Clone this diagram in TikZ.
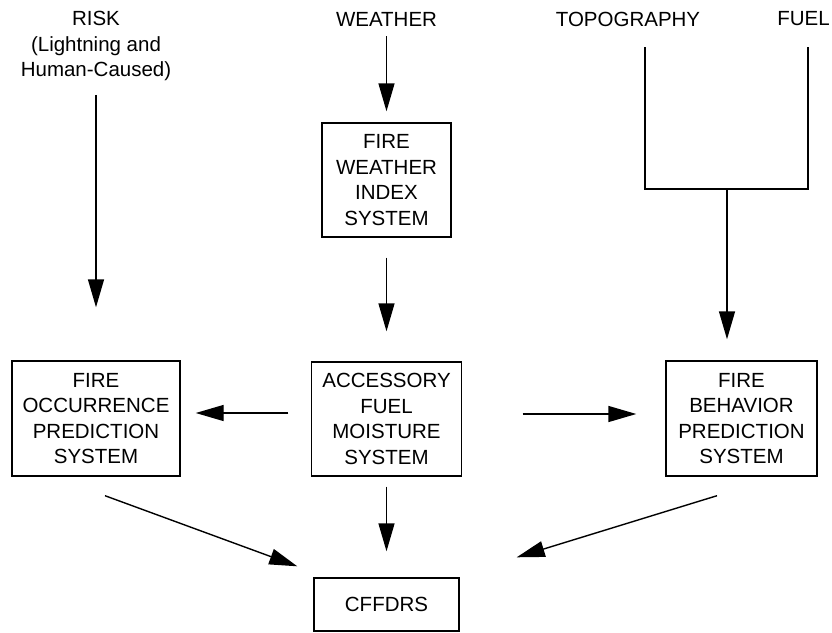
\documentclass[tikz,border=0pt]{standalone}
\usepackage{fontspec}
\setmainfont{Liberation Sans}
\usetikzlibrary{arrows.meta}
\begin{document}
\begin{tikzpicture}[x=1pt,y=-1pt,
  lbl/.style={font=\fontsize{20.5}{25.5}\selectfont, inner sep=0pt, align=center},
  box/.style={lbl, draw, line width=1.4pt},
  conn/.style={line width=1.4pt},
  arr/.style={conn, -{Triangle[length=28pt,width=16pt]}}]
\useasboundingbox (0,0) rectangle (832,632);

% boxes
\node[box, minimum width=129pt, minimum height=114pt] (fwi) at (386.5,180) {FIRE\\WEATHER\\INDEX\\SYSTEM};
\node[box, minimum width=150pt, minimum height=114pt] (afm) at (386.5,419) {ACCESSORY\\FUEL\\MOISTURE\\SYSTEM};
\node[box, minimum width=168pt, minimum height=115pt] (fops) at (96,418.5) {FIRE\\OCCURRENCE\\PREDICTION\\SYSTEM};
\node[box, minimum width=151pt, minimum height=115pt] (fbps) at (741.5,418.5) {FIRE\\BEHAVIOR\\PREDICTION\\SYSTEM};
\node[box, minimum width=145pt, minimum height=53pt] (cffdrs) at (386.5,604.5) {CFFDRS};

% inputs
\node[lbl] (risk) at (96,46) {RISK\\(Lightning and\\Human-Caused)};
\node[lbl] (weather) at (386.5,19) {WEATHER};
\node[lbl] (topo) at (628,19) {TOPOGRAPHY};
\node[lbl] (fuel) at (803.5,19) {FUEL};
\coordinate (join) at (727,189);

% connectors
\draw[arr, shorten <=14pt, shorten >=53pt] (risk.south) -- (risk.south |- fops.north);
\draw[arr, shorten <=10pt, shorten >=11pt] (weather.south) -- (fwi.north);
\draw[arr, shorten <=20pt, shorten >=30pt] (fwi.south) -- (afm.north);
\draw[arr, shorten <=10pt, shorten >=26pt] (afm.south) -- (cffdrs.north);
\draw[arr, shorten <=22.5pt, shorten >=15pt] ([yshift=6pt]afm.west) -- ([yshift=6pt]afm.west -| fops.east);
\draw[arr, shorten <=60.5pt, shorten >=29pt] ([yshift=5pt]afm.east) -- ([yshift=5pt]afm.east -| fbps.west);
\draw[arr] ([xshift=9pt,yshift=-19pt]fops.south) -- ([xshift=-16pt,yshift=11pt]cffdrs.north west);
\draw[arr] ([xshift=-24.5pt,yshift=-19pt]fbps.south) -- ([xshift=57pt,yshift=20pt]cffdrs.north east);
\draw[conn] ([xshift=17pt,yshift=-21pt]topo.south) |- (join) -| ([xshift=4.5pt,yshift=-21pt]fuel.south);
\draw[arr, shorten >=21pt] (join) -- (join |- fbps.north);
\end{tikzpicture}
\end{document}
